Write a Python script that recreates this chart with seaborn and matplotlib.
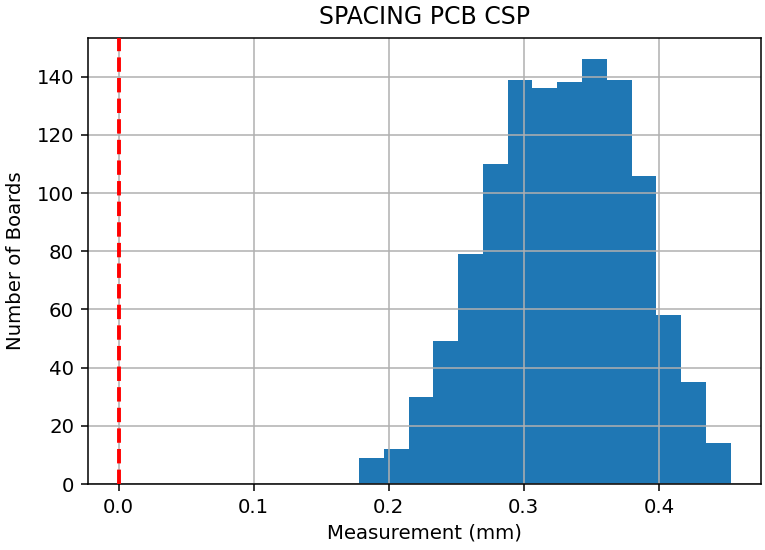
import numpy as np
import pandas as pd
import matplotlib
matplotlib.use("Agg")
import matplotlib.pyplot as plt
import seaborn as sns

# Histogram data
counts = [9, 12, 30, 49, 79, 110, 139, 136, 138, 146, 139, 106, 58, 35, 14]
bin_start = 0.178
bin_end = 0.453
spec_limit = 0.0

title = "SPACING PCB CSP"
xlabel = "Measurement (mm)"
ylabel = "Number of Boards"

edges = np.linspace(bin_start, bin_end, len(counts) + 1)
centers = (edges[:-1] + edges[1:]) / 2
df = pd.DataFrame({"x": centers, "w": np.asarray(counts, dtype=float)})

sns.set_style("ticks")
plt.rcParams['font.family'] = ['DejaVu Sans']
plt.rcParams['text.color'] = 'black'
plt.rcParams['axes.labelcolor'] = 'black'
plt.rcParams['xtick.color'] = 'black'
plt.rcParams['ytick.color'] = 'black'

fig, ax = plt.subplots(figsize=(7.65, 5.5), dpi=100)
sns.histplot(data=df, x="x", weights="w", bins=list(edges), ax=ax,
             color="#1f77b4", alpha=1.0, linewidth=0)
ax.axvline(spec_limit, color="red", linestyle="--", linewidth=2.8, zorder=3)

ax.grid(True, color="#b0b0b0", linewidth=1.1)
ax.set_axisbelow("line")
for s in ax.spines.values():
    s.set_visible(True)
    s.set_color("black")
    s.set_linewidth(1.1)

ax.set_title(title, fontsize=17, pad=10)
ax.set_xlabel(xlabel, fontsize=14.2, labelpad=5)
ax.set_ylabel(ylabel, fontsize=14.2, labelpad=8)
ax.tick_params(labelsize=14.2, length=5, width=1.1, color="black", pad=5)
ax.set_yticks(range(0, 141, 20))
ax.set_xticks([0.0, 0.1, 0.2, 0.3, 0.4])

fig.subplots_adjust(left=0.115, right=0.995, top=0.931, bottom=0.12)
fig.savefig("out.png", dpi=100)
